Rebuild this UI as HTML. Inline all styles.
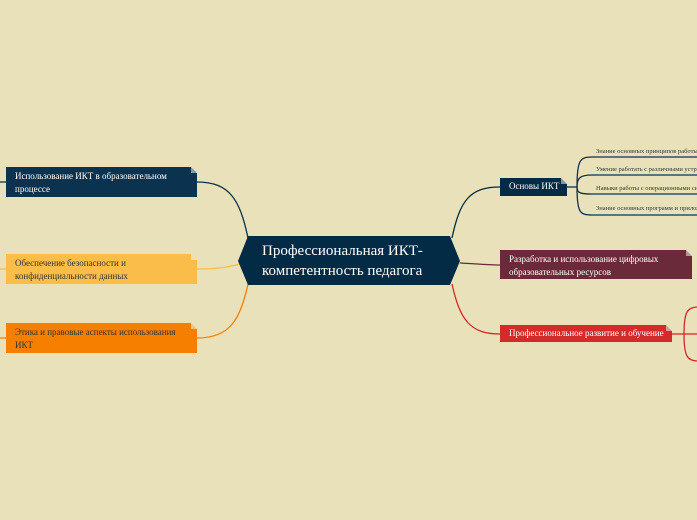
<!DOCTYPE html>
<html><head><meta charset="utf-8"><style>
body{margin:0;width:697px;height:520px;background:#e8e1b9;position:relative;overflow:hidden;font-family:"Liberation Serif",serif}
.n{position:absolute;font-size:9px;line-height:13px;box-sizing:border-box;padding:3px 20px 0 9px}
.n:after{content:"";position:absolute;right:0;top:0;border-style:solid;border-width:0 6px 6px 0;border-color:transparent #e8e1b9 rgba(255,255,255,.5) transparent}
.s{position:absolute;font-size:6.5px;color:#333;white-space:nowrap}
svg{position:absolute;left:0;top:0}
</style></head><body>
<svg width="697" height="520" fill="none" stroke-width="1.3">
<path d="M248 238 C240 200 230 182 197 182" stroke="#0b3350"/>
<path d="M0 182 H6" stroke="#0b3350"/>
<path d="M240 264 C225 268 215 269 197 269" stroke="#fbbd4a"/>
<path d="M0 269 H6" stroke="#fbbd4a"/>
<path d="M248 284 C240 320 230 338 197 338" stroke="#f77f00"/>
<path d="M0 338 H6" stroke="#f77f00"/>
<path d="M452 238 C460 200 470 187 500 187" stroke="#032b45"/>
<path d="M460 263 C480 264 490 265 500 265" stroke="#6a2a3a"/>
<path d="M452 284 C460 320 470 334 500 334" stroke="#d42a2a"/>
<g stroke="#0b3350">
<path d="M567 187 H577"/>
<path d="M577 187 C577 160 580 157 592 157 H697"/>
<path d="M577 187 C577 178 580 175 592 175 H697"/>
<path d="M577 187 C577 193 580 194 592 194 H697"/>
<path d="M577 187 C577 213 580 215 592 215 H697"/>
</g>
<g stroke="#d42a2a">
<path d="M672 334 H684"/>
<path d="M684 334 C684 310 688 308 697 307"/>
<path d="M684 334 C684 358 688 360 697 361"/>
<path d="M684 334 H697"/>
</g>
<polygon points="248,236 450,236 460,261 450,285 248,285 238,261" fill="#032b45" stroke="none"/>
</svg>
<div style="position:absolute;left:262px;top:241px;color:#fff;font-size:15px;line-height:20px">Профессиональная ИКТ-<br>компетентность педагога</div>
<div class="n" style="left:6px;top:167px;width:191px;height:30px;background:#0b3350;color:#fff">Использование ИКТ в образовательном процессе</div>
<div class="n" style="left:6px;top:254px;width:191px;height:30px;background:#fbbd4a;color:#333">Обеспечение безопасности и конфиденциальности данных</div>
<div class="n" style="left:6px;top:323px;width:191px;height:30px;background:#f77f00;color:#333">Этика и правовые аспекты использования ИКТ</div>
<div class="n" style="left:500px;top:178px;width:67px;height:18px;background:#032b45;color:#fff;padding:2px 0 0 9px">Основы ИКТ</div>
<div class="n" style="left:500px;top:250px;width:192px;height:29px;background:#6a2a3a;color:#fff">Разработка и использование цифровых образовательных ресурсов</div>
<div class="n" style="left:500px;top:325px;width:172px;height:17px;background:#d42a2a;color:#fff;padding:2px 0 0 9px">Профессиональное развитие и обучение</div>
<div class="s" style="left:596px;top:148px">Знание основных принципов работы</div>
<div class="s" style="left:596px;top:166px">Умение работать с различными устройствами</div>
<div class="s" style="left:596px;top:185px">Навыки работы с операционными системами</div>
<div class="s" style="left:596px;top:205px">Знание основных программ и приложений</div>
</body></html>
